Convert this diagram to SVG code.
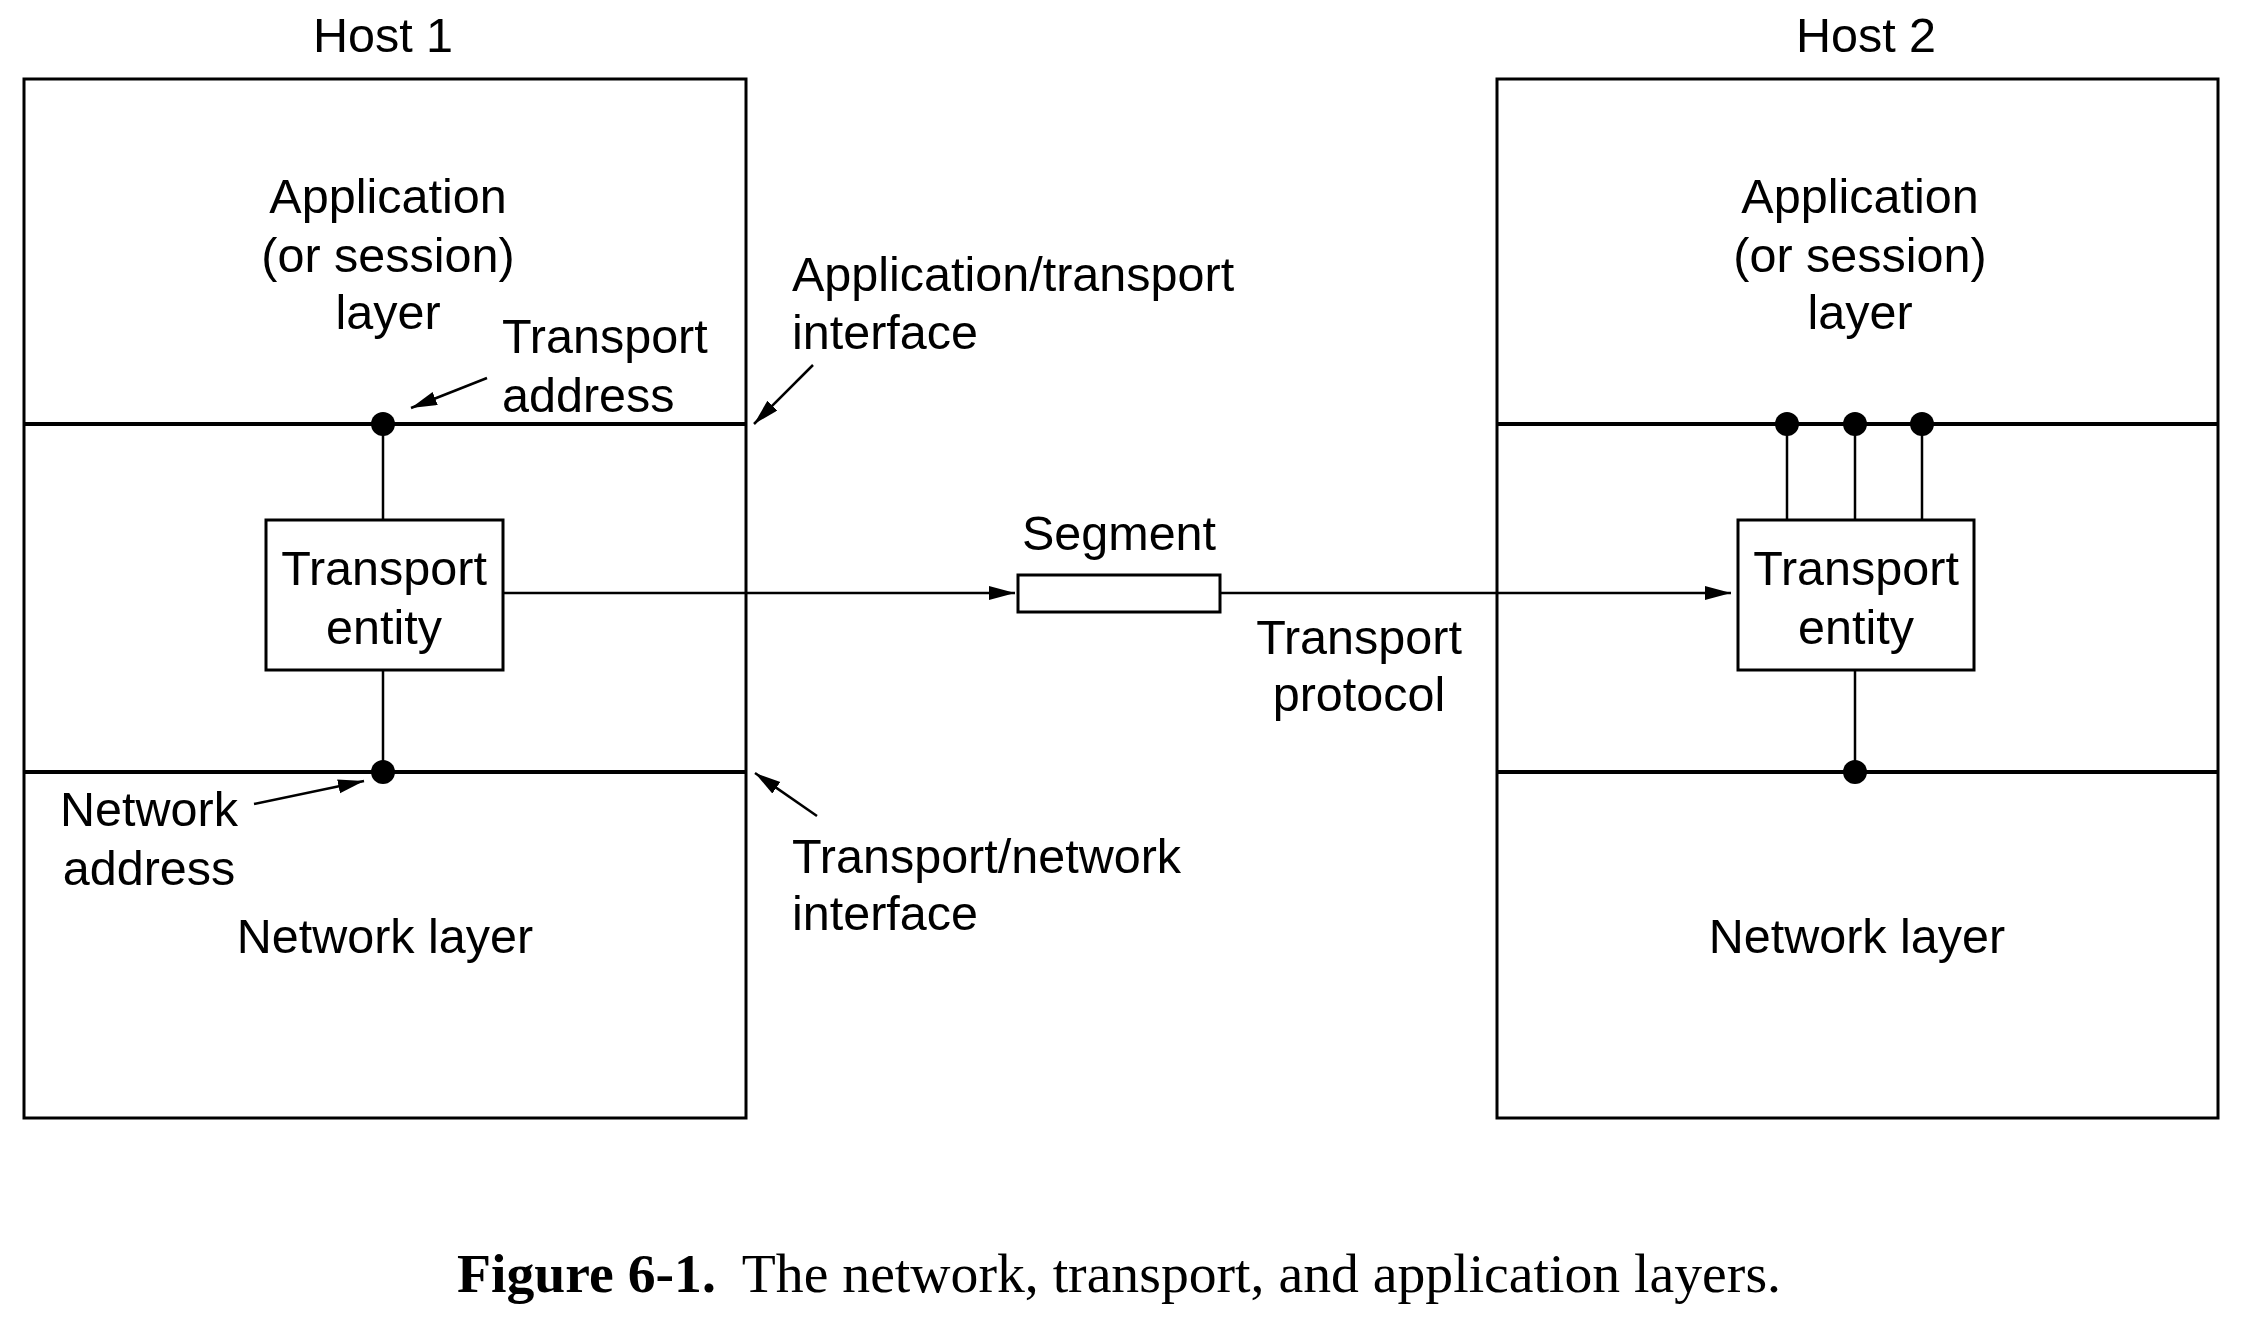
<svg xmlns="http://www.w3.org/2000/svg" width="2244" height="1332" viewBox="0 0 2244 1332">
<style>
.t{font-family:"Liberation Sans",Arial,sans-serif;font-size:48.5px;fill:#000}
.m{text-anchor:middle}
.box{fill:#fff;stroke:#000;stroke-width:3}
.layer{stroke:#000;stroke-width:4}
.ln{stroke:#000;stroke-width:2.5;fill:none}
.dot{fill:#000}
.cap{font-family:"Liberation Serif","Times New Roman",serif;font-size:55.7px;fill:#000}
</style>
<defs>
<marker id="ah" markerUnits="userSpaceOnUse" markerWidth="28" markerHeight="16" refX="26" refY="7" orient="auto">
<path d="M0,0 L26,7 L0,14 z" fill="#000"/>
</marker>
</defs>
<rect width="2244" height="1332" fill="#fff"/>

<g id="host1">
<text class="t m" x="383" y="52">Host 1</text>
<rect class="box" x="24" y="79" width="722" height="1039"/>
<line class="layer" x1="24" y1="424" x2="746" y2="424"/>
<line class="layer" x1="24" y1="772" x2="746" y2="772"/>
<text class="t m" x="388" y="213">Application</text>
<text class="t m" x="388" y="272">(or session)</text>
<text class="t m" x="388" y="329">layer</text>
<text class="t m" x="385" y="953">Network layer</text>
</g>

<g id="host2">
<text class="t m" x="1866" y="52">Host 2</text>
<rect class="box" x="1497" y="79" width="721" height="1039"/>
<line class="layer" x1="1497" y1="424" x2="2218" y2="424"/>
<line class="layer" x1="1497" y1="772" x2="2218" y2="772"/>
<text class="t m" x="1860" y="213">Application</text>
<text class="t m" x="1860" y="272">(or session)</text>
<text class="t m" x="1860" y="329">layer</text>
<text class="t m" x="1857" y="953">Network layer</text>
</g>

<g id="connectors">
<line class="ln" x1="383" y1="424" x2="383" y2="520"/>
<line class="ln" x1="383" y1="670" x2="383" y2="772"/>
<line class="ln" x1="1787" y1="424" x2="1787" y2="520"/>
<line class="ln" x1="1855" y1="424" x2="1855" y2="520"/>
<line class="ln" x1="1922" y1="424" x2="1922" y2="520"/>
<line class="ln" x1="1855" y1="670" x2="1855" y2="772"/>
<line class="ln" x1="502" y1="593" x2="1015" y2="593" marker-end="url(#ah)"/>
<line class="ln" x1="1220" y1="593" x2="1731" y2="593" marker-end="url(#ah)"/>
<line class="ln" x1="487" y1="378" x2="411" y2="408" marker-end="url(#ah)"/>
<line class="ln" x1="813" y1="365" x2="754" y2="424" marker-end="url(#ah)"/>
<line class="ln" x1="254" y1="804" x2="364" y2="781" marker-end="url(#ah)"/>
<line class="ln" x1="817" y1="816" x2="755" y2="773" marker-end="url(#ah)"/>
</g>

<g id="dots">
<circle class="dot" cx="383" cy="424" r="12"/>
<circle class="dot" cx="383" cy="772" r="12"/>
<circle class="dot" cx="1787" cy="424" r="12"/>
<circle class="dot" cx="1855" cy="424" r="12"/>
<circle class="dot" cx="1922" cy="424" r="12"/>
<circle class="dot" cx="1855" cy="772" r="12"/>
</g>

<g id="entity1">
<rect class="box" x="266" y="520" width="237" height="150"/>
<text class="t m" x="384" y="585">Transport</text>
<text class="t m" x="384" y="644">entity</text>
</g>

<g id="entity2">
<rect class="box" x="1738" y="520" width="236" height="150"/>
<text class="t m" x="1856" y="585">Transport</text>
<text class="t m" x="1856" y="644">entity</text>
</g>

<g id="segment">
<rect class="box" x="1018" y="575" width="202" height="37"/>
<text class="t m" x="1119" y="550">Segment</text>
</g>

<g id="labels">
<text class="t" x="502" y="353">Transport</text>
<text class="t" x="502" y="412">address</text>
<text class="t" x="792" y="291">Application/transport</text>
<text class="t" x="792" y="349">interface</text>
<text class="t m" x="1359" y="654">Transport</text>
<text class="t m" x="1359" y="711">protocol</text>
<text class="t m" x="149" y="826">Network</text>
<text class="t m" x="149" y="885">address</text>
<text class="t" x="792" y="873">Transport/network</text>
<text class="t" x="792" y="930">interface</text>
</g>

<g id="caption">
<text class="cap" x="457" y="1292"><tspan font-weight="bold">Figure 6-1.</tspan><tspan dx="26">The network, transport, and application layers.</tspan></text>
</g>
</svg>
